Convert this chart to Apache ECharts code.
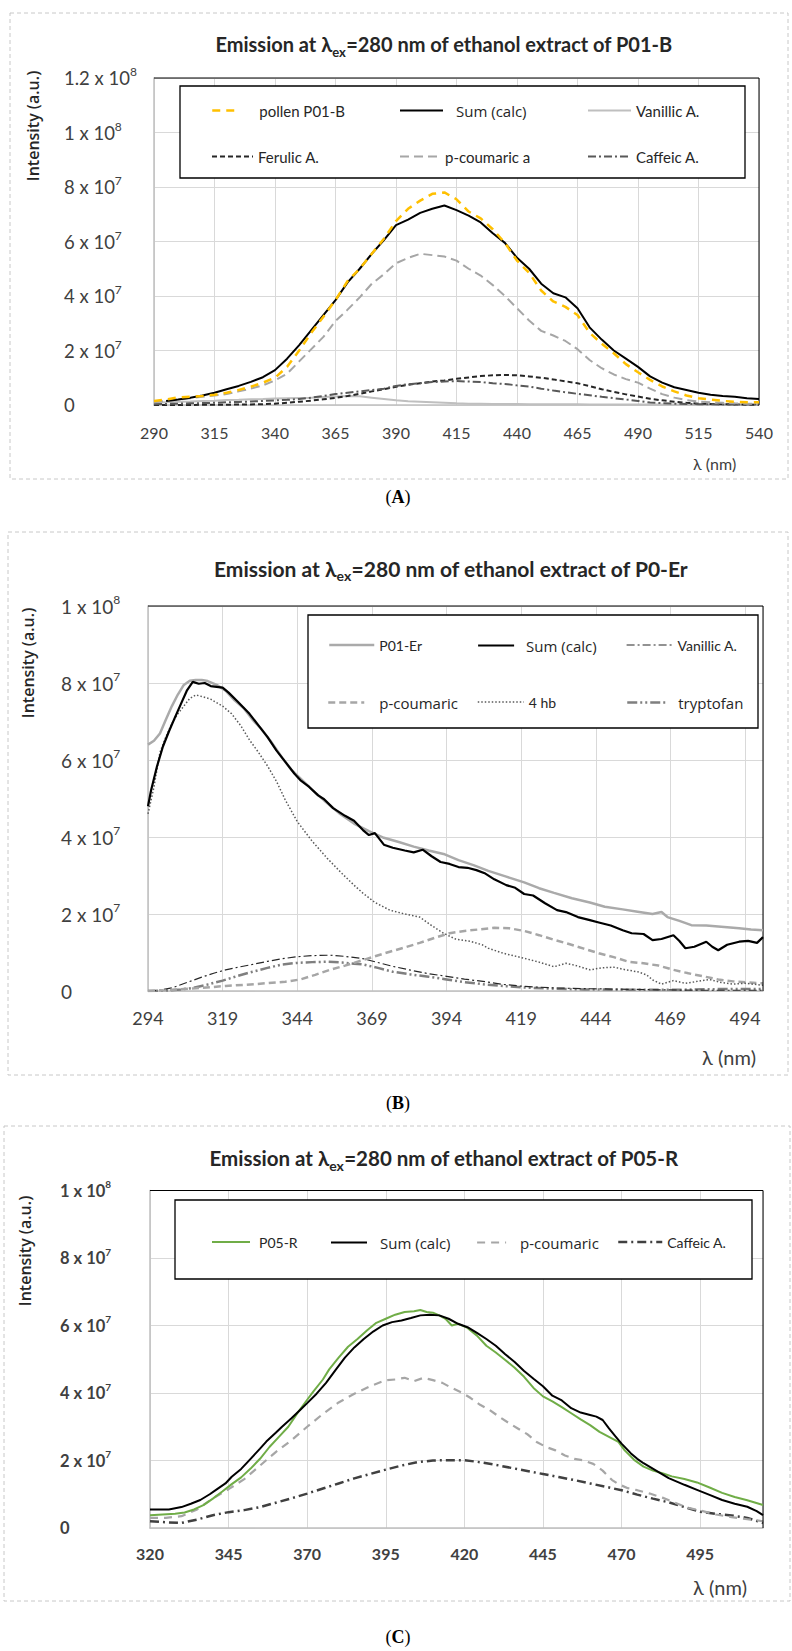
<!DOCTYPE html>
<html><head><meta charset="utf-8">
<script src="https://cdn.jsdelivr.net/npm/echarts@6/dist/echarts.min.js"></script>
<style>
html,body{margin:0;padding:0;background:#fff;}
#wrap{position:relative;width:792px;height:1651px;background:#fff;}
.panel{position:absolute;left:0;width:792px;}
</style></head><body>
<div id="wrap">
<div id="chartA" class="panel" style="top:0;height:520px"></div>
<div id="chartB" class="panel" style="top:520px;height:600px"></div>
<div id="chartC" class="panel" style="top:1120px;height:531px"></div>
</div>
<script>
// ---------------- DATA (intensity values in units of 10^7 a.u.) ----------------
// Panel A: ethanol extract of P01-B
const aLambda = [290,295,300,305,310,315,320,325,330,335,340,345,350,355,360,365,370,375,380,385,390,395,400,405,410,415,420,425,430,435,440,445,450,455,460,465,470,475,480,485,490,495,500,505,510,515,520,525,530,535,540];
const aPollen = [0.15,0.2,0.28,0.3,0.33,0.38,0.45,0.55,0.67,0.82,1.0,1.4,2.0,2.65,3.24,3.85,4.55,5.0,5.55,6.1,6.75,7.2,7.5,7.75,7.8,7.55,7.1,6.85,6.45,5.95,5.3,4.85,4.2,3.8,3.6,3.3,2.65,2.25,1.9,1.5,1.2,0.92,0.68,0.5,0.35,0.25,0.2,0.15,0.12,0.1,0.1];
const aSum = [null,0.15,0.2,0.27,0.35,0.45,0.58,0.7,0.85,1.02,1.28,1.7,2.2,2.75,3.3,3.85,4.5,5.0,5.55,6.05,6.6,6.8,7.05,7.2,7.32,7.15,6.95,6.7,6.3,5.95,5.4,5.0,4.45,4.1,3.95,3.55,2.85,2.4,2.0,1.7,1.4,1.05,0.82,0.65,0.55,0.45,0.38,0.33,0.3,0.25,0.22];
const aVanillic = [0.08,0.1,0.12,0.13,0.15,0.16,0.18,0.19,0.21,0.22,0.24,0.25,0.26,0.27,0.29,0.31,0.33,0.32,0.27,0.22,0.17,0.14,0.12,0.1,0.08,0.06,0.05,0.05,0.04,0.04,0.04,0.03,0.03,0.03,0.03,0.03,0.02,0.02,0.02,0.02,0.02,0.02,0.02,0.02,0.02,0.02,0.02,0.02,0.02,0.02,0.02];
const aFerulic = [0,0,0,0,0.01,0.01,0.01,0.02,0.02,0.03,0.05,0.08,0.12,0.16,0.21,0.26,0.33,0.41,0.5,0.58,0.67,0.74,0.8,0.86,0.9,0.96,1.01,1.06,1.09,1.1,1.09,1.05,1.0,0.94,0.87,0.8,0.69,0.58,0.48,0.39,0.31,0.23,0.17,0.12,0.08,0.05,0.04,0.03,0.02,0.01,0.01];
const aCoumaric = [0.1,0.15,0.2,0.25,0.3,0.35,0.4,0.5,0.6,0.72,0.9,1.15,1.6,2.05,2.5,3.08,3.5,3.95,4.45,4.8,5.2,5.4,5.55,5.5,5.45,5.3,5.0,4.75,4.4,4.0,3.55,3.1,2.72,2.55,2.35,2.05,1.65,1.35,1.12,0.95,0.82,0.6,0.4,0.27,0.18,0.13,0.1,0.08,0.06,0.05,0.05];
const aCaffeic = [0.03,0.04,0.05,0.06,0.07,0.08,0.1,0.11,0.13,0.15,0.17,0.19,0.22,0.27,0.33,0.4,0.45,0.5,0.55,0.6,0.7,0.76,0.8,0.84,0.86,0.88,0.86,0.84,0.8,0.77,0.72,0.68,0.6,0.53,0.47,0.41,0.36,0.3,0.25,0.2,0.15,0.09,0.07,0.05,0.04,0.03,0.03,0.02,0.02,0.02,0.02];
const aYTickValues = [0,2e7,4e7,6e7,8e7,1e8,1.2e8];
const aYTickText = ['0','2 x 10^7','4 x 10^7','6 x 10^7','8 x 10^7','1 x 10^8','1.2 x 10^8'];

// Panel B: ethanol extract of P0-Er
const bErX = [294,296,298,300,302,304,306,308,310,312,314,317,320,323,326,329,332,335,339,342,346,350,353,358,363,368,373,378,383,388,393,398,403,408,414,420,425,430,436,442,447,453,458,463,466,468,472,476,481,486,492,496,500];
const bErY = [6.4,6.5,6.69,7.05,7.4,7.7,7.95,8.06,8.08,8.08,8.05,7.95,7.8,7.55,7.35,7.05,6.8,6.5,6.05,5.75,5.45,5.15,4.95,4.62,4.35,4.15,3.98,3.87,3.75,3.65,3.56,3.4,3.27,3.12,2.97,2.82,2.67,2.55,2.41,2.3,2.19,2.12,2.06,2.0,2.05,1.92,1.82,1.71,1.7,1.67,1.63,1.6,1.58];
const bSumX = [294,295,297,299,301,303,305,307,309,311,313,315,317,319,321,324,328,331,334,337,340,343,345,348,351,353,356,360,363,366,368,370,373,376,380,383,386,389,392,395,398,401,404,407,410,414,417,420,423,427,431,434,438,442,445,449,453,456,460,463,466,470,472,474,477,481,483,485,488,492,495,498,500];
const bSumY = [4.8,5.2,5.83,6.35,6.74,7.1,7.45,7.8,8.03,7.98,8.0,7.92,7.9,7.88,7.75,7.52,7.2,6.9,6.6,6.25,5.95,5.65,5.48,5.3,5.08,4.98,4.75,4.55,4.42,4.18,4.05,4.1,3.8,3.72,3.65,3.6,3.67,3.5,3.35,3.3,3.22,3.2,3.14,3.05,2.9,2.75,2.68,2.52,2.48,2.28,2.1,2.05,1.92,1.84,1.78,1.7,1.58,1.5,1.48,1.32,1.35,1.45,1.3,1.11,1.15,1.28,1.15,1.06,1.2,1.28,1.3,1.25,1.4];
const bVanX = [294,298,302,307,312,316,320,325,329,334,339,344,349,355,360,366,371,376,382,388,394,400,407,413,420,430,440,450,465,480,500];
const bVanY = [0,0.02,0.08,0.22,0.36,0.46,0.55,0.63,0.69,0.77,0.84,0.89,0.92,0.93,0.9,0.84,0.74,0.64,0.54,0.45,0.38,0.31,0.24,0.17,0.12,0.08,0.06,0.05,0.03,0.02,0.02];
const bCouX = [294,300,310,320,330,340,345,350,355,360,365,370,375,380,385,390,395,400,405,410,415,420,425,430,435,440,445,450,455,460,465,470,475,480,485,490,495,500];
const bCouY = [0,0.02,0.07,0.13,0.18,0.24,0.3,0.42,0.55,0.66,0.78,0.9,1.02,1.13,1.25,1.38,1.5,1.56,1.6,1.64,1.63,1.56,1.45,1.33,1.22,1.1,0.98,0.88,0.76,0.72,0.66,0.55,0.46,0.38,0.3,0.25,0.22,0.2];
const b4hbX = [294,296,298,300,302,304,306,308,310,312,315,319,322,325,328,331,334,337,340,344,349,354,359,363,366,370,375,380,385,389,393,397,402,406,408,413,420,425,430,434,437,442,446,450,454,458,461,463,466,470,474,478,482,486,490,494,500];
const b4hbY = [4.6,5.3,6.2,6.6,6.95,7.2,7.4,7.6,7.69,7.65,7.58,7.4,7.2,6.9,6.52,6.2,5.85,5.45,4.96,4.4,3.89,3.45,3.05,2.75,2.54,2.3,2.1,2.0,1.92,1.7,1.5,1.35,1.29,1.2,1.11,0.98,0.85,0.75,0.63,0.72,0.67,0.55,0.6,0.62,0.55,0.5,0.42,0.29,0.18,0.27,0.2,0.25,0.3,0.22,0.18,0.2,0.15];
const bTrpX = [294,300,305,309,314,319,324,329,334,339,344,349,354,359,363,366,371,376,382,388,394,400,407,413,420,430,440,455,470,485,500];
const bTrpY = [0,0.01,0.04,0.08,0.17,0.27,0.39,0.5,0.6,0.69,0.73,0.75,0.76,0.74,0.71,0.69,0.6,0.5,0.43,0.37,0.3,0.23,0.17,0.13,0.09,0.06,0.04,0.03,0.03,0.05,0.05];
const bYTickValues = [0,2e7,4e7,6e7,8e7,1e8];
const bYTickText = ['0','2 x 10^7','4 x 10^7','6 x 10^7','8 x 10^7','1 x 10^8'];

// Panel C: ethanol extract of P05-R
const cGrX = [320,324,328,331,334,337,340,343,346,349,352,355,358,361,364,367,370,372,375,377,380,383,386,389,392,395,398,401,404,406,408,410,412,414,416,418,421,424,427,430,433,436,439,442,445,448,451,454,457,460,463,466,469,471,474,477,480,483,486,490,494,498,502,506,510,515];
const cGrY = [0.38,0.4,0.42,0.46,0.55,0.68,0.87,1.08,1.3,1.5,1.76,2.05,2.4,2.7,3.0,3.42,3.8,4.05,4.4,4.7,5.05,5.37,5.6,5.85,6.08,6.2,6.32,6.4,6.42,6.46,6.4,6.38,6.3,6.2,6.0,6.05,5.93,5.7,5.4,5.2,4.98,4.75,4.48,4.15,3.9,3.75,3.58,3.4,3.22,3.05,2.85,2.7,2.55,2.3,2.02,1.82,1.7,1.62,1.53,1.45,1.35,1.2,1.04,0.92,0.82,0.68];
const cSumX = [320,326,330,333,336,339,341,344,346,349,352,355,357,360,362,365,368,370,373,376,379,382,385,388,391,394,397,400,403,406,409,412,415,418,421,424,427,430,433,436,439,442,445,448,451,454,457,460,462,464,466,468,470,473,475,477,481,485,490,494,498,502,506,510,513,515];
const cSumY = [0.55,0.55,0.62,0.72,0.83,1.0,1.13,1.32,1.52,1.75,2.05,2.35,2.56,2.82,3.0,3.25,3.52,3.7,3.98,4.3,4.68,5.05,5.35,5.6,5.82,6.0,6.1,6.15,6.22,6.3,6.32,6.3,6.2,6.05,5.95,5.78,5.6,5.4,5.15,4.92,4.65,4.42,4.2,3.92,3.78,3.55,3.42,3.35,3.3,3.2,2.95,2.72,2.5,2.21,2.05,1.92,1.7,1.48,1.28,1.13,0.98,0.83,0.72,0.63,0.5,0.38];
const cCouX = [320,325,330,335,340,345,350,355,360,365,370,375,380,385,390,395,398,401,404,407,410,413,416,419,422,425,428,431,434,437,440,443,446,449,452,455,458,461,464,467,469,472,475,479,483,487,491,495,500,505,510,515];
const cCouY = [0.3,0.3,0.35,0.55,0.88,1.15,1.45,1.85,2.25,2.6,3.0,3.38,3.72,3.98,4.2,4.38,4.4,4.45,4.35,4.45,4.38,4.3,4.15,4.02,3.85,3.65,3.5,3.3,3.12,2.95,2.78,2.55,2.4,2.3,2.15,2.05,2.0,1.9,1.7,1.42,1.3,1.18,1.12,1.02,0.9,0.75,0.6,0.52,0.4,0.32,0.26,0.2];
const cCafX = [320,325,330,335,340,345,350,355,360,365,370,375,380,385,390,395,400,405,410,415,420,425,430,435,440,445,450,455,460,465,470,475,480,485,490,495,500,505,510,515];
const cCafY = [0.2,0.17,0.15,0.25,0.38,0.47,0.53,0.62,0.75,0.88,1.02,1.17,1.32,1.47,1.6,1.73,1.85,1.95,2.0,2.01,2.01,1.95,1.87,1.78,1.69,1.6,1.51,1.42,1.32,1.22,1.12,0.99,0.87,0.76,0.62,0.48,0.42,0.37,0.3,0.15];
const cYTickValues = [0,2e7,4e7,6e7,8e7,1e8];
const cYTickText = ['0','2 x 10^7','4 x 10^7','6 x 10^7','8 x 10^7','1 x 10^8'];

// ---------------- HELPERS ----------------
const SANS = 'Lato, "Noto Sans", sans-serif';
const OPEN = '"Open Sans", "Noto Sans", sans-serif';
const SERIF = '"Liberation Serif", "DejaVu Serif", serif';
const UNIT = 1e7;

function pairs(xs, ys) { return xs.map((x, i) => [x, ys[i] == null ? null : ys[i] * UNIT]); }

function yFormatter(vals, texts) {
  return function (v) {
    let k = -1;
    for (let i = 0; i < vals.length; i++) if (Math.abs(vals[i] - v) < 1) k = i;
    if (k < 0) return '';
    const t = texts[k];
    if (t.indexOf('^') < 0) return '{m|' + t + '}';
    const p = t.split('^');
    return '{m|' + p[0] + '}{s|' + p[1] + '}';
  };
}
function yRich(size, supSize, weight) {
  return {
    m: { fontFamily: SANS, fontSize: size, fontWeight: weight, color: '#404040', lineHeight: size + 6 },
    s: { fontFamily: SANS, fontSize: supSize, fontWeight: weight, color: '#404040', verticalAlign: 'top', lineHeight: supSize + 2 }
  };
}
function line(name, xs, ys, color, width, type, z) {
  return {
    name: name, type: 'line', data: pairs(xs, ys), symbol: 'none', showSymbol: false,
    silent: true, z: z || 2, animation: false, connectNulls: false,
    lineStyle: { color: color, width: width, type: type || 'solid', cap: 'butt' },
    itemStyle: { color: color }, emphasis: { disabled: true }
  };
}
function legendItem(name, left, rowY, iconW, pad, fontSize, family) {
  return {
    show: true, data: [name], left: left, top: rowY - 5, orient: 'horizontal',
    itemWidth: iconW, itemHeight: 10, itemGap: 0, padding: 0, selectedMode: false,
    itemStyle: { opacity: 0 }, lineStyle: { width: 'inherit' },
    textStyle: { fontFamily: family || SANS, fontSize: fontSize, color: '#262626', padding: [0, 0, 0, pad] },
    z: 10, backgroundColor: 'transparent', borderWidth: 0
  };
}
function xAxisCfg(min, max, labelSize, labelWeight, margin, showMax) {
  return {
    type: 'value', min: min, max: max, interval: 25,
    axisLine: { show: true, onZero: false, lineStyle: { color: '#bfbfbf', width: 1.5 } },
    axisTick: { show: false },
    splitLine: { show: true, lineStyle: { color: '#d9d9d9', width: 1 } },
    axisLabel: { show: true, margin: margin, verticalAlign: 'middle', fontFamily: SANS, fontSize: labelSize,
      fontWeight: labelWeight, color: '#404040', showMinLabel: true, showMaxLabel: showMax, hideOverlap: false }
  };
}
function yAxisCfg(max, vals, texts, size, supSize, weight, margin) {
  return {
    type: 'value', min: 0, max: max, interval: 2e7,
    axisLine: { show: true, lineStyle: { color: '#bfbfbf', width: 1.5 } },
    axisTick: { show: false },
    splitLine: { show: true, lineStyle: { color: '#d9d9d9', width: 1 } },
    axisLabel: { show: true, align: 'left', margin: margin, formatter: yFormatter(vals, texts),
      rich: yRich(size, supSize, weight), showMinLabel: true, showMaxLabel: true, hideOverlap: false }
  };
}
function titleText(x, y, sample, size) {
  return {
    type: 'text', x: x, y: y, z: 20, silent: true,
    style: {
      text: '{t|Emission at λ}{s|ex}{t|=280 nm of ethanol extract of ' + sample + '}',
      align: 'center', verticalAlign: 'middle',
      rich: {
        t: { fontFamily: SANS, fontWeight: 'bold', fontSize: size, fill: '#262626', color: '#262626', lineHeight: size + 8 },
        s: { fontFamily: SANS, fontWeight: 'bold', fontSize: Math.round(size * 0.66), fill: '#262626', color: '#262626', verticalAlign: 'bottom', lineHeight: 12 }
      }
    }
  };
}
function yTitle(x, y, size) {
  return { type: 'text', x: x, y: y, rotation: Math.PI / 2, z: 20, silent: true,
    style: { text: 'Intensity (a.u.)', align: 'center', verticalAlign: 'middle',
      fontFamily: OPEN, fontWeight: 600, fontSize: size, fill: '#262626' } };
}
function lamText(x, y, size) {
  return { type: 'text', x: x, y: y, z: 20, silent: true,
    style: { text: 'λ (nm)', align: 'left', verticalAlign: 'middle', fontFamily: SANS, fontSize: size, fill: '#404040' } };
}
function caption(x, y, letter) {
  return { type: 'text', x: x, y: y, z: 20, silent: true,
    style: { text: '{p|(}{b|' + letter + '}{p|)}', align: 'center', verticalAlign: 'middle',
      rich: { p: { fontFamily: SERIF, fontSize: 18, fill: '#000', color: '#000' },
              b: { fontFamily: SERIF, fontSize: 18, fontWeight: 'bold', fill: '#000', color: '#000' } } } };
}
function dashedBorder(x, y, w, h) {
  return { type: 'rect', z: 1, silent: true, shape: { x: x, y: y, width: w, height: h },
    style: { fill: 'none', stroke: '#c8c8c8', lineWidth: 1, lineDash: [4, 3] } };
}
function boxRect(x, y, w, h) {
  return { type: 'rect', z: 5, silent: true, shape: { x: x, y: y, width: w, height: h },
    style: { fill: '#ffffff', stroke: '#000000', lineWidth: 1.3 } };
}
function plotFrame(l, t, r, b) {
  return [
    { type: 'line', z: 4, silent: true, shape: { x1: l, y1: t, x2: r, y2: t }, style: { stroke: '#000', lineWidth: 1 } },
    { type: 'line', z: 4, silent: true, shape: { x1: r, y1: t, x2: r, y2: b }, style: { stroke: '#000', lineWidth: 1 } }
  ];
}

// ---------------- PANEL A ----------------
const chartA = echarts.init(document.getElementById('chartA'), null, { renderer: 'svg' });
chartA.setOption({
  animation: false,
  grid: { left: 154, top: 78, width: 605, height: 327, containLabel: false, outerBoundsMode: 'none' },
  xAxis: xAxisCfg(290, 540, 16, 'normal', 27, true),
  yAxis: yAxisCfg(1.2e8, aYTickValues, aYTickText, 18.5, 12, 'normal', 90),
  legend: [
    legendItem('pollen P01-B', 211, 108, 26, 16, 15),
    legendItem('Sum (calc)', 399, 108, 43, 8, 15, OPEN),
    legendItem('Vanillic A.', 587, 108, 43, 0, 15),
    legendItem('Ferulic A.', 211, 154, 41, 0, 15),
    legendItem('p-coumaric a', 399, 154, 40, 0, 15),
    legendItem('Caffeic A.', 587, 154, 43, 0, 15)
  ],
  graphic: [
    dashedBorder(10, 13, 778, 466),
    boxRect(180, 86, 565, 92),
    titleText(444, 44, 'P01-B', 20),
    yTitle(33, 126, 16),
    lamText(693, 463, 16),
    caption(398, 497, 'A')
  ].concat(plotFrame(154, 78, 759, 405)),
  series: [
    line('Vanillic A.', aLambda, aVanillic, '#bfbfbf', 2, 'solid', 2),
    line('Ferulic A.', aLambda, aFerulic, '#262626', 2, [5, 3], 2),
    line('Caffeic A.', aLambda, aCaffeic, '#595959', 2, [8, 3, 2, 3], 2),
    line('p-coumaric a', aLambda, aCoumaric, '#a6a6a6', 2, [9, 5], 3),
    line('Sum (calc)', aLambda, aSum, '#000000', 2, 'solid', 4),
    line('pollen P01-B', aLambda, aPollen, '#ffc000', 2.5, [8, 6], 5)
  ]
});

// ---------------- PANEL B ----------------
const chartB = echarts.init(document.getElementById('chartB'), null, { renderer: 'svg' });
chartB.setOption({
  animation: false,
  grid: { left: 148, top: 86, width: 615, height: 385, containLabel: false, outerBoundsMode: 'none' },
  xAxis: xAxisCfg(294, 500, 18, 'normal', 27, false),
  yAxis: yAxisCfg(1e8, bYTickValues, bYTickText, 19, 12, 'normal', 87),
  legend: [
    legendItem('P01-Er', 328, 123, 45, 0, 14),
    legendItem('Sum (calc)', 477, 123, 36, 7, 15, OPEN),
    legendItem('Vanillic A.', 626, 123, 46, 0, 14),
    legendItem('p-coumaric', 327, 180, 36, 10, 15, OPEN),
    legendItem('4 hb', 477, 180, 46, 0, 14),
    legendItem('tryptofan', 626, 180, 41, 5, 15, OPEN)
  ],
  graphic: [
    dashedBorder(8, 12, 780, 543),
    boxRect(308, 95, 450, 113),
    titleText(451, 48, 'P0-Er', 21),
    yTitle(28, 143, 16),
    lamText(702, 537, 20),
    caption(398, 583, 'B')
  ].concat(plotFrame(148, 86, 763, 471)),
  series: [
    line('tryptofan', bTrpX, bTrpY, '#7f7f7f', 2.5, [10, 3, 2, 3, 2, 3], 2),
    line('Vanillic A.', bVanX, bVanY, '#262626', 1.2, [8, 3, 2, 3], 2),
    line('p-coumaric', bCouX, bCouY, '#a6a6a6', 2.5, [7, 4], 3),
    line('4 hb', b4hbX, b4hbY, '#595959', 1.5, [1.5, 2], 3),
    line('P01-Er', bErX, bErY, '#aaaaaa', 2.5, 'solid', 4),
    line('Sum (calc)', bSumX, bSumY, '#000000', 2.2, 'solid', 5)
  ]
});

// ---------------- PANEL C ----------------
const chartC = echarts.init(document.getElementById('chartC'), null, { renderer: 'svg' });
chartC.setOption({
  animation: false,
  grid: { left: 150, top: 70.5, width: 613, height: 337.5, containLabel: false, outerBoundsMode: 'none' },
  xAxis: xAxisCfg(320, 515, 16, 'bold', 25, false),
  yAxis: yAxisCfg(1e8, cYTickValues, cYTickText, 16.5, 10, 'bold', 90),
  legend: [
    legendItem('P05-R', 211, 120, 38, 4, 14),
    legendItem('Sum (calc)', 330, 120, 36, 8, 15, OPEN),
    legendItem('p-coumaric', 476, 120, 29, 9, 15, OPEN),
    legendItem('Caffeic A.', 617, 120, 44, 0, 14)
  ],
  graphic: [
    dashedBorder(4, 6, 786, 475),
    boxRect(175, 80, 577, 79),
    titleText(444, 38, 'P05-R', 20.5),
    yTitle(25, 131, 16),
    lamText(693, 467, 20),
    caption(398, 517, 'C')
  ].concat(plotFrame(150, 70.5, 763, 408)),
  series: [
    line('Caffeic A.', cCafX, cCafY, '#404040', 2.5, [9, 4, 2, 4], 2),
    line('p-coumaric', cCouX, cCouY, '#a6a6a6', 2.2, [8, 6], 3),
    line('P05-R', cGrX, cGrY, '#70ad47', 2, 'solid', 4),
    line('Sum (calc)', cSumX, cSumY, '#000000', 2, 'solid', 5)
  ]
});
</script>
</body></html>
